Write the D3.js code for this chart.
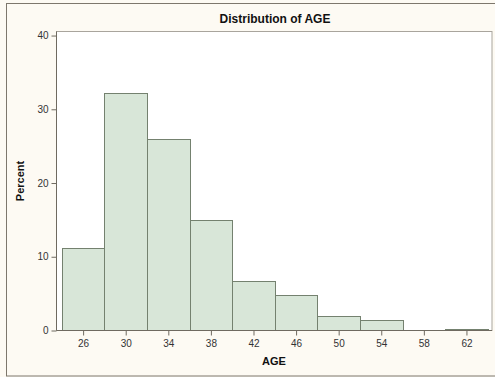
<!DOCTYPE html>
<html><head><meta charset="utf-8">
<script src="https://cdn.jsdelivr.net/npm/d3@7"></script>
<style>html,body{margin:0;padding:0;background:#fdfaf3;}svg{display:block;}</style>
</head><body>
<script>
const binStarts = [24, 28, 32, 36, 40, 44, 48, 52, 56, 60];
const binWidth = 4;
const percents = [11.25, 32.27, 25.94, 14.92, 6.73, 4.79, 1.9, 1.44, 0, 0.27];
const xTicks = [26, 30, 34, 38, 42, 46, 50, 54, 58, 62];
const yTicks = [0, 10, 20, 30, 40];
const title = "Distribution of AGE";
const xLabel = "AGE";
const yLabel = "Percent";

const W = 495, H = 377;
const svg = d3.select("body").append("svg").attr("width", W).attr("height", H);
const font = "'Liberation Sans', Arial, sans-serif";

// outer border
svg.append("rect").attr("x", 6.5).attr("y", 3.5).attr("width", 500).attr("height", 372.5)
  .attr("fill", "#fdfaf3").attr("stroke", "#7d776c").attr("stroke-width", 1);

const L = 56.5, R = 492, T = 31.5, B = 330.5;
const x = d3.scaleLinear().domain([23.5, 64.4]).range([L, R]);
const y = d3.scaleLinear().domain([0, 40.55]).range([B, T]);

svg.append("rect").attr("x", L).attr("y", T).attr("width", R - L).attr("height", B - T)
  .attr("fill", "#ffffff").attr("stroke", "#a9a59d").attr("stroke-width", 1);

// bars
svg.append("g").selectAll("rect").data(binStarts.map((s, i) => ({s, v: percents[i]})).filter(d => d.v > 0))
  .join("rect")
  .attr("x", d => Math.round(x(d.s)) + 0.5)
  .attr("width", d => Math.round(x(d.s + binWidth)) - Math.round(x(d.s)))
  .attr("y", d => Math.round(y(d.v)) + 0.5)
  .attr("height", d => B - 0.5 - Math.round(y(d.v)))
  .attr("fill", "#d8e6d8").attr("stroke", "#74816f").attr("stroke-width", 1);

// axes
const xAxis = d3.axisBottom(x).tickValues(xTicks).tickSize(5).tickPadding(4);
const gx = svg.append("g").attr("transform", `translate(0,${B})`).call(xAxis);
const yAxis = d3.axisLeft(y).tickValues(yTicks).tickSize(5).tickPadding(3);
const gy = svg.append("g").attr("transform", `translate(${L},0)`).call(yAxis);
[gx, gy].forEach(g => {
  g.select(".domain").remove();
  g.selectAll(".tick line").attr("stroke", "#6f6a60");
  g.selectAll(".tick text").attr("fill", "#333").style("font-family", font).style("font-size", "10px");
});
// axis lines (left & bottom darker)
svg.append("line").attr("x1", L).attr("x2", L).attr("y1", T).attr("y2", B).attr("stroke", "#6f6a60");
svg.append("line").attr("x1", L).attr("x2", R).attr("y1", B).attr("y2", B).attr("stroke", "#6f6a60");

svg.append("text").attr("x", 275).attr("y", 23).attr("text-anchor", "middle")
  .style("font-family", font).style("font-size", "12px").style("font-weight", "bold").attr("fill", "#111").text(title);
svg.append("text").attr("x", 274).attr("y", 364.5).attr("text-anchor", "middle")
  .style("font-family", font).style("font-size", "11px").style("font-weight", "bold").attr("fill", "#111").text(xLabel);
svg.append("text").attr("transform", "translate(24,181) rotate(-90)").attr("text-anchor", "middle")
  .style("font-family", font).style("font-size", "11px").style("font-weight", "bold").attr("fill", "#111").text(yLabel);
</script>
</body></html>
